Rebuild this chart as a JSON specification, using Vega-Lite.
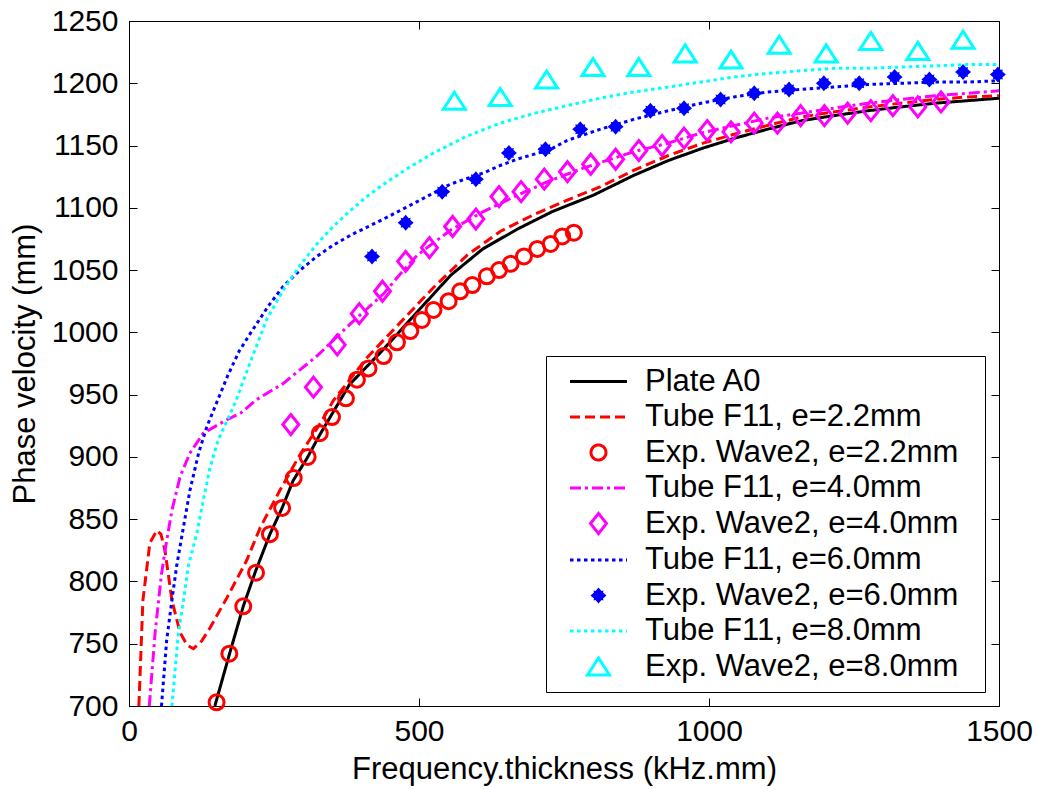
{
  "$schema": "https://vega.github.io/schema/vega-lite/v6.json",
  "width": 870,
  "height": 685,
  "autosize": {"type": "none"},
  "padding": {"left": 129, "top": 21, "right": 39, "bottom": 83},
  "background": "white",
  "datasets": {
    "lines": [
      {"series": "Plate A0", "f": 148, "v": 700},
      {"series": "Plate A0", "f": 174, "v": 743},
      {"series": "Plate A0", "f": 197, "v": 780},
      {"series": "Plate A0", "f": 218, "v": 808},
      {"series": "Plate A0", "f": 243, "v": 838},
      {"series": "Plate A0", "f": 264, "v": 859},
      {"series": "Plate A0", "f": 283, "v": 881},
      {"series": "Plate A0", "f": 307, "v": 899},
      {"series": "Plate A0", "f": 328, "v": 917},
      {"series": "Plate A0", "f": 352, "v": 936},
      {"series": "Plate A0", "f": 380, "v": 958},
      {"series": "Plate A0", "f": 440, "v": 987},
      {"series": "Plate A0", "f": 500, "v": 1018},
      {"series": "Plate A0", "f": 555, "v": 1046},
      {"series": "Plate A0", "f": 610, "v": 1067},
      {"series": "Plate A0", "f": 670, "v": 1083},
      {"series": "Plate A0", "f": 730, "v": 1097},
      {"series": "Plate A0", "f": 800, "v": 1110},
      {"series": "Plate A0", "f": 870, "v": 1126},
      {"series": "Plate A0", "f": 930, "v": 1138},
      {"series": "Plate A0", "f": 990, "v": 1148},
      {"series": "Plate A0", "f": 1045, "v": 1156},
      {"series": "Plate A0", "f": 1100, "v": 1163},
      {"series": "Plate A0", "f": 1160, "v": 1170},
      {"series": "Plate A0", "f": 1215, "v": 1174},
      {"series": "Plate A0", "f": 1275, "v": 1178},
      {"series": "Plate A0", "f": 1330, "v": 1181},
      {"series": "Plate A0", "f": 1390, "v": 1184},
      {"series": "Plate A0", "f": 1445, "v": 1186},
      {"series": "Plate A0", "f": 1500, "v": 1188},

      {"series": "Tube F11, e=2.2mm", "f": 17, "v": 700},
      {"series": "Tube F11, e=2.2mm", "f": 24, "v": 785},
      {"series": "Tube F11, e=2.2mm", "f": 36, "v": 831},
      {"series": "Tube F11, e=2.2mm", "f": 48, "v": 841},
      {"series": "Tube F11, e=2.2mm", "f": 55, "v": 838},
      {"series": "Tube F11, e=2.2mm", "f": 62, "v": 825},
      {"series": "Tube F11, e=2.2mm", "f": 74, "v": 785},
      {"series": "Tube F11, e=2.2mm", "f": 88, "v": 759},
      {"series": "Tube F11, e=2.2mm", "f": 100, "v": 749},
      {"series": "Tube F11, e=2.2mm", "f": 111, "v": 746},
      {"series": "Tube F11, e=2.2mm", "f": 125, "v": 752},
      {"series": "Tube F11, e=2.2mm", "f": 140, "v": 763},
      {"series": "Tube F11, e=2.2mm", "f": 169, "v": 787},
      {"series": "Tube F11, e=2.2mm", "f": 203, "v": 817},
      {"series": "Tube F11, e=2.2mm", "f": 226, "v": 843},
      {"series": "Tube F11, e=2.2mm", "f": 260, "v": 873},
      {"series": "Tube F11, e=2.2mm", "f": 295, "v": 902},
      {"series": "Tube F11, e=2.2mm", "f": 330, "v": 927},
      {"series": "Tube F11, e=2.2mm", "f": 352, "v": 945},
      {"series": "Tube F11, e=2.2mm", "f": 411, "v": 980},
      {"series": "Tube F11, e=2.2mm", "f": 468, "v": 1008},
      {"series": "Tube F11, e=2.2mm", "f": 525, "v": 1036},
      {"series": "Tube F11, e=2.2mm", "f": 583, "v": 1062},
      {"series": "Tube F11, e=2.2mm", "f": 640, "v": 1081},
      {"series": "Tube F11, e=2.2mm", "f": 700, "v": 1095},
      {"series": "Tube F11, e=2.2mm", "f": 760, "v": 1107},
      {"series": "Tube F11, e=2.2mm", "f": 813, "v": 1117},
      {"series": "Tube F11, e=2.2mm", "f": 870, "v": 1130},
      {"series": "Tube F11, e=2.2mm", "f": 930, "v": 1142},
      {"series": "Tube F11, e=2.2mm", "f": 990, "v": 1152},
      {"series": "Tube F11, e=2.2mm", "f": 1050, "v": 1160},
      {"series": "Tube F11, e=2.2mm", "f": 1100, "v": 1166},
      {"series": "Tube F11, e=2.2mm", "f": 1160, "v": 1173},
      {"series": "Tube F11, e=2.2mm", "f": 1215, "v": 1177},
      {"series": "Tube F11, e=2.2mm", "f": 1275, "v": 1181},
      {"series": "Tube F11, e=2.2mm", "f": 1330, "v": 1184},
      {"series": "Tube F11, e=2.2mm", "f": 1390, "v": 1187},
      {"series": "Tube F11, e=2.2mm", "f": 1445, "v": 1189},
      {"series": "Tube F11, e=2.2mm", "f": 1500, "v": 1190},

      {"series": "Tube F11, e=4.0mm", "f": 35, "v": 700},
      {"series": "Tube F11, e=4.0mm", "f": 45, "v": 759},
      {"series": "Tube F11, e=4.0mm", "f": 56, "v": 806},
      {"series": "Tube F11, e=4.0mm", "f": 65, "v": 833},
      {"series": "Tube F11, e=4.0mm", "f": 74, "v": 857},
      {"series": "Tube F11, e=4.0mm", "f": 88, "v": 884},
      {"series": "Tube F11, e=4.0mm", "f": 105, "v": 903},
      {"series": "Tube F11, e=4.0mm", "f": 128, "v": 919},
      {"series": "Tube F11, e=4.0mm", "f": 169, "v": 930},
      {"series": "Tube F11, e=4.0mm", "f": 192, "v": 935},
      {"series": "Tube F11, e=4.0mm", "f": 220, "v": 946},
      {"series": "Tube F11, e=4.0mm", "f": 266, "v": 959},
      {"series": "Tube F11, e=4.0mm", "f": 324, "v": 981},
      {"series": "Tube F11, e=4.0mm", "f": 382, "v": 1007},
      {"series": "Tube F11, e=4.0mm", "f": 439, "v": 1031},
      {"series": "Tube F11, e=4.0mm", "f": 468, "v": 1047},
      {"series": "Tube F11, e=4.0mm", "f": 497, "v": 1062},
      {"series": "Tube F11, e=4.0mm", "f": 554, "v": 1082},
      {"series": "Tube F11, e=4.0mm", "f": 611, "v": 1097},
      {"series": "Tube F11, e=4.0mm", "f": 669, "v": 1110},
      {"series": "Tube F11, e=4.0mm", "f": 727, "v": 1122},
      {"series": "Tube F11, e=4.0mm", "f": 784, "v": 1132},
      {"series": "Tube F11, e=4.0mm", "f": 870, "v": 1145},
      {"series": "Tube F11, e=4.0mm", "f": 930, "v": 1152},
      {"series": "Tube F11, e=4.0mm", "f": 986, "v": 1160},
      {"series": "Tube F11, e=4.0mm", "f": 1043, "v": 1166},
      {"series": "Tube F11, e=4.0mm", "f": 1101, "v": 1172},
      {"series": "Tube F11, e=4.0mm", "f": 1158, "v": 1176},
      {"series": "Tube F11, e=4.0mm", "f": 1215, "v": 1180},
      {"series": "Tube F11, e=4.0mm", "f": 1274, "v": 1184},
      {"series": "Tube F11, e=4.0mm", "f": 1331, "v": 1187},
      {"series": "Tube F11, e=4.0mm", "f": 1390, "v": 1190},
      {"series": "Tube F11, e=4.0mm", "f": 1446, "v": 1192},
      {"series": "Tube F11, e=4.0mm", "f": 1500, "v": 1194},

      {"series": "Tube F11, e=6.0mm", "f": 56, "v": 700},
      {"series": "Tube F11, e=6.0mm", "f": 65, "v": 753},
      {"series": "Tube F11, e=6.0mm", "f": 74, "v": 785},
      {"series": "Tube F11, e=6.0mm", "f": 82, "v": 812},
      {"series": "Tube F11, e=6.0mm", "f": 94, "v": 844},
      {"series": "Tube F11, e=6.0mm", "f": 105, "v": 873},
      {"series": "Tube F11, e=6.0mm", "f": 120, "v": 903},
      {"series": "Tube F11, e=6.0mm", "f": 134, "v": 924},
      {"series": "Tube F11, e=6.0mm", "f": 148, "v": 940},
      {"series": "Tube F11, e=6.0mm", "f": 170, "v": 965},
      {"series": "Tube F11, e=6.0mm", "f": 190, "v": 985},
      {"series": "Tube F11, e=6.0mm", "f": 209, "v": 999},
      {"series": "Tube F11, e=6.0mm", "f": 240, "v": 1021},
      {"series": "Tube F11, e=6.0mm", "f": 266, "v": 1037},
      {"series": "Tube F11, e=6.0mm", "f": 295, "v": 1050},
      {"series": "Tube F11, e=6.0mm", "f": 324, "v": 1061},
      {"series": "Tube F11, e=6.0mm", "f": 352, "v": 1070},
      {"series": "Tube F11, e=6.0mm", "f": 382, "v": 1078},
      {"series": "Tube F11, e=6.0mm", "f": 439, "v": 1091},
      {"series": "Tube F11, e=6.0mm", "f": 497, "v": 1105},
      {"series": "Tube F11, e=6.0mm", "f": 554, "v": 1119},
      {"series": "Tube F11, e=6.0mm", "f": 611, "v": 1128},
      {"series": "Tube F11, e=6.0mm", "f": 640, "v": 1134},
      {"series": "Tube F11, e=6.0mm", "f": 669, "v": 1139},
      {"series": "Tube F11, e=6.0mm", "f": 727, "v": 1147},
      {"series": "Tube F11, e=6.0mm", "f": 755, "v": 1154},
      {"series": "Tube F11, e=6.0mm", "f": 812, "v": 1163},
      {"series": "Tube F11, e=6.0mm", "f": 870, "v": 1171},
      {"series": "Tube F11, e=6.0mm", "f": 930, "v": 1178},
      {"series": "Tube F11, e=6.0mm", "f": 986, "v": 1184},
      {"series": "Tube F11, e=6.0mm", "f": 1043, "v": 1189},
      {"series": "Tube F11, e=6.0mm", "f": 1101, "v": 1193},
      {"series": "Tube F11, e=6.0mm", "f": 1158, "v": 1195},
      {"series": "Tube F11, e=6.0mm", "f": 1216, "v": 1197},
      {"series": "Tube F11, e=6.0mm", "f": 1274, "v": 1199},
      {"series": "Tube F11, e=6.0mm", "f": 1331, "v": 1200},
      {"series": "Tube F11, e=6.0mm", "f": 1390, "v": 1201},
      {"series": "Tube F11, e=6.0mm", "f": 1446, "v": 1201},
      {"series": "Tube F11, e=6.0mm", "f": 1500, "v": 1202},

      {"series": "Tube F11, e=8.0mm", "f": 74, "v": 700},
      {"series": "Tube F11, e=8.0mm", "f": 85, "v": 758},
      {"series": "Tube F11, e=8.0mm", "f": 94, "v": 785},
      {"series": "Tube F11, e=8.0mm", "f": 102, "v": 812},
      {"series": "Tube F11, e=8.0mm", "f": 117, "v": 839},
      {"series": "Tube F11, e=8.0mm", "f": 128, "v": 865},
      {"series": "Tube F11, e=8.0mm", "f": 140, "v": 892},
      {"series": "Tube F11, e=8.0mm", "f": 154, "v": 914},
      {"series": "Tube F11, e=8.0mm", "f": 172, "v": 932},
      {"series": "Tube F11, e=8.0mm", "f": 186, "v": 947},
      {"series": "Tube F11, e=8.0mm", "f": 209, "v": 976},
      {"series": "Tube F11, e=8.0mm", "f": 238, "v": 1011},
      {"series": "Tube F11, e=8.0mm", "f": 266, "v": 1034},
      {"series": "Tube F11, e=8.0mm", "f": 295, "v": 1054},
      {"series": "Tube F11, e=8.0mm", "f": 324, "v": 1071},
      {"series": "Tube F11, e=8.0mm", "f": 352, "v": 1085},
      {"series": "Tube F11, e=8.0mm", "f": 382, "v": 1098},
      {"series": "Tube F11, e=8.0mm", "f": 410, "v": 1109},
      {"series": "Tube F11, e=8.0mm", "f": 439, "v": 1119},
      {"series": "Tube F11, e=8.0mm", "f": 485, "v": 1133},
      {"series": "Tube F11, e=8.0mm", "f": 525, "v": 1144},
      {"series": "Tube F11, e=8.0mm", "f": 580, "v": 1157},
      {"series": "Tube F11, e=8.0mm", "f": 640, "v": 1168},
      {"series": "Tube F11, e=8.0mm", "f": 700, "v": 1176},
      {"series": "Tube F11, e=8.0mm", "f": 755, "v": 1182},
      {"series": "Tube F11, e=8.0mm", "f": 812, "v": 1188},
      {"series": "Tube F11, e=8.0mm", "f": 870, "v": 1193},
      {"series": "Tube F11, e=8.0mm", "f": 930, "v": 1197},
      {"series": "Tube F11, e=8.0mm", "f": 986, "v": 1201},
      {"series": "Tube F11, e=8.0mm", "f": 1043, "v": 1205},
      {"series": "Tube F11, e=8.0mm", "f": 1101, "v": 1208},
      {"series": "Tube F11, e=8.0mm", "f": 1158, "v": 1210},
      {"series": "Tube F11, e=8.0mm", "f": 1216, "v": 1212},
      {"series": "Tube F11, e=8.0mm", "f": 1274, "v": 1212},
      {"series": "Tube F11, e=8.0mm", "f": 1331, "v": 1213},
      {"series": "Tube F11, e=8.0mm", "f": 1390, "v": 1214},
      {"series": "Tube F11, e=8.0mm", "f": 1446, "v": 1215},
      {"series": "Tube F11, e=8.0mm", "f": 1500, "v": 1215}
    ],
    "points": [
      {"series": "Exp. Wave2, e=2.2mm", "f": 151, "v": 703},
      {"series": "Exp. Wave2, e=2.2mm", "f": 173, "v": 742},
      {"series": "Exp. Wave2, e=2.2mm", "f": 197, "v": 780},
      {"series": "Exp. Wave2, e=2.2mm", "f": 219, "v": 807},
      {"series": "Exp. Wave2, e=2.2mm", "f": 243, "v": 838},
      {"series": "Exp. Wave2, e=2.2mm", "f": 264, "v": 859},
      {"series": "Exp. Wave2, e=2.2mm", "f": 284, "v": 883},
      {"series": "Exp. Wave2, e=2.2mm", "f": 308, "v": 900},
      {"series": "Exp. Wave2, e=2.2mm", "f": 329, "v": 919},
      {"series": "Exp. Wave2, e=2.2mm", "f": 350, "v": 932},
      {"series": "Exp. Wave2, e=2.2mm", "f": 374, "v": 947},
      {"series": "Exp. Wave2, e=2.2mm", "f": 393, "v": 962},
      {"series": "Exp. Wave2, e=2.2mm", "f": 413, "v": 971},
      {"series": "Exp. Wave2, e=2.2mm", "f": 439, "v": 981},
      {"series": "Exp. Wave2, e=2.2mm", "f": 462, "v": 992},
      {"series": "Exp. Wave2, e=2.2mm", "f": 485, "v": 1001},
      {"series": "Exp. Wave2, e=2.2mm", "f": 505, "v": 1010},
      {"series": "Exp. Wave2, e=2.2mm", "f": 525, "v": 1018},
      {"series": "Exp. Wave2, e=2.2mm", "f": 551, "v": 1025},
      {"series": "Exp. Wave2, e=2.2mm", "f": 571, "v": 1033},
      {"series": "Exp. Wave2, e=2.2mm", "f": 592, "v": 1038},
      {"series": "Exp. Wave2, e=2.2mm", "f": 617, "v": 1045},
      {"series": "Exp. Wave2, e=2.2mm", "f": 638, "v": 1050},
      {"series": "Exp. Wave2, e=2.2mm", "f": 658, "v": 1055},
      {"series": "Exp. Wave2, e=2.2mm", "f": 681, "v": 1061},
      {"series": "Exp. Wave2, e=2.2mm", "f": 704, "v": 1067},
      {"series": "Exp. Wave2, e=2.2mm", "f": 727, "v": 1071},
      {"series": "Exp. Wave2, e=2.2mm", "f": 747, "v": 1077},
      {"series": "Exp. Wave2, e=2.2mm", "f": 767, "v": 1080},

      {"series": "Exp. Wave2, e=4.0mm", "f": 279, "v": 926},
      {"series": "Exp. Wave2, e=4.0mm", "f": 318, "v": 956},
      {"series": "Exp. Wave2, e=4.0mm", "f": 359, "v": 990},
      {"series": "Exp. Wave2, e=4.0mm", "f": 397, "v": 1015},
      {"series": "Exp. Wave2, e=4.0mm", "f": 437, "v": 1033},
      {"series": "Exp. Wave2, e=4.0mm", "f": 477, "v": 1057},
      {"series": "Exp. Wave2, e=4.0mm", "f": 518, "v": 1068},
      {"series": "Exp. Wave2, e=4.0mm", "f": 558, "v": 1085},
      {"series": "Exp. Wave2, e=4.0mm", "f": 598, "v": 1091},
      {"series": "Exp. Wave2, e=4.0mm", "f": 638, "v": 1109},
      {"series": "Exp. Wave2, e=4.0mm", "f": 676, "v": 1113},
      {"series": "Exp. Wave2, e=4.0mm", "f": 716, "v": 1123},
      {"series": "Exp. Wave2, e=4.0mm", "f": 756, "v": 1129},
      {"series": "Exp. Wave2, e=4.0mm", "f": 796, "v": 1135},
      {"series": "Exp. Wave2, e=4.0mm", "f": 839, "v": 1139},
      {"series": "Exp. Wave2, e=4.0mm", "f": 879, "v": 1146},
      {"series": "Exp. Wave2, e=4.0mm", "f": 919, "v": 1150},
      {"series": "Exp. Wave2, e=4.0mm", "f": 957, "v": 1156},
      {"series": "Exp. Wave2, e=4.0mm", "f": 997, "v": 1162},
      {"series": "Exp. Wave2, e=4.0mm", "f": 1038, "v": 1161},
      {"series": "Exp. Wave2, e=4.0mm", "f": 1078, "v": 1168},
      {"series": "Exp. Wave2, e=4.0mm", "f": 1118, "v": 1168},
      {"series": "Exp. Wave2, e=4.0mm", "f": 1158, "v": 1174},
      {"series": "Exp. Wave2, e=4.0mm", "f": 1199, "v": 1174},
      {"series": "Exp. Wave2, e=4.0mm", "f": 1239, "v": 1176},
      {"series": "Exp. Wave2, e=4.0mm", "f": 1279, "v": 1178},
      {"series": "Exp. Wave2, e=4.0mm", "f": 1317, "v": 1182},
      {"series": "Exp. Wave2, e=4.0mm", "f": 1360, "v": 1181},
      {"series": "Exp. Wave2, e=4.0mm", "f": 1400, "v": 1185},

      {"series": "Exp. Wave2, e=6.0mm", "f": 419, "v": 1061},
      {"series": "Exp. Wave2, e=6.0mm", "f": 477, "v": 1088},
      {"series": "Exp. Wave2, e=6.0mm", "f": 540, "v": 1113},
      {"series": "Exp. Wave2, e=6.0mm", "f": 598, "v": 1123},
      {"series": "Exp. Wave2, e=6.0mm", "f": 655, "v": 1144},
      {"series": "Exp. Wave2, e=6.0mm", "f": 718, "v": 1147},
      {"series": "Exp. Wave2, e=6.0mm", "f": 778, "v": 1163},
      {"series": "Exp. Wave2, e=6.0mm", "f": 839, "v": 1165},
      {"series": "Exp. Wave2, e=6.0mm", "f": 899, "v": 1178},
      {"series": "Exp. Wave2, e=6.0mm", "f": 957, "v": 1180},
      {"series": "Exp. Wave2, e=6.0mm", "f": 1020, "v": 1187},
      {"series": "Exp. Wave2, e=6.0mm", "f": 1078, "v": 1192},
      {"series": "Exp. Wave2, e=6.0mm", "f": 1138, "v": 1195},
      {"series": "Exp. Wave2, e=6.0mm", "f": 1198, "v": 1200},
      {"series": "Exp. Wave2, e=6.0mm", "f": 1259, "v": 1200},
      {"series": "Exp. Wave2, e=6.0mm", "f": 1320, "v": 1205},
      {"series": "Exp. Wave2, e=6.0mm", "f": 1380, "v": 1203},
      {"series": "Exp. Wave2, e=6.0mm", "f": 1438, "v": 1209},
      {"series": "Exp. Wave2, e=6.0mm", "f": 1498, "v": 1207},

      {"series": "Exp. Wave2, e=8.0mm", "f": 561, "v": 1186},
      {"series": "Exp. Wave2, e=8.0mm", "f": 640, "v": 1189},
      {"series": "Exp. Wave2, e=8.0mm", "f": 720, "v": 1203},
      {"series": "Exp. Wave2, e=8.0mm", "f": 800, "v": 1213},
      {"series": "Exp. Wave2, e=8.0mm", "f": 879, "v": 1213},
      {"series": "Exp. Wave2, e=8.0mm", "f": 959, "v": 1224},
      {"series": "Exp. Wave2, e=8.0mm", "f": 1038, "v": 1219},
      {"series": "Exp. Wave2, e=8.0mm", "f": 1121, "v": 1231},
      {"series": "Exp. Wave2, e=8.0mm", "f": 1202, "v": 1224},
      {"series": "Exp. Wave2, e=8.0mm", "f": 1279, "v": 1234},
      {"series": "Exp. Wave2, e=8.0mm", "f": 1360, "v": 1226},
      {"series": "Exp. Wave2, e=8.0mm", "f": 1438, "v": 1235}
    ]
  },
  "config": {
    "view": {"stroke": null},
    "axis": {
      "domainColor": "black",
      "domainWidth": 1,
      "tickColor": "black",
      "tickWidth": 1,
      "labelColor": "black",
      "titleColor": "black",
      "labelFont": "Liberation Sans",
      "titleFont": "Liberation Sans",
      "labelFontSize": 30,
      "titleFontSize": 31,
      "titleFontWeight": "normal",
      "grid": false,
      "labelFlush": false,
      "labelOverlap": false,
      "format": "d"
    }
  },
  "resolve": {"axis": {"x": "independent", "y": "independent"}},
  "layer": [
    {
      "data": {"name": "lines"},
      "mark": {"type": "line", "strokeWidth": 3, "strokeCap": "butt", "clip": true},
      "encoding": {
        "x": {
          "field": "f", "type": "quantitative",
          "scale": {"domain": [0, 1500], "nice": false, "zero": false},
          "axis": {"values": [0, 500, 1000, 1500], "format": "d", "title": "Frequency.thickness (kHz.mm)", "tickSize": -8, "labelPadding": 18, "titlePadding": 8}
        },
        "y": {
          "field": "v", "type": "quantitative",
          "scale": {"domain": [700, 1250], "nice": false, "zero": false},
          "axis": {"values": [700, 750, 800, 850, 900, 950, 1000, 1050, 1100, 1150, 1200, 1250], "format": "d", "title": "Phase velocity (mm)", "tickSize": -8, "labelPadding": 19, "titlePadding": 10}
        },
        "color": {
          "field": "series", "type": "nominal",
          "scale": {
            "domain": ["Plate A0", "Tube F11, e=2.2mm", "Exp. Wave2, e=2.2mm", "Tube F11, e=4.0mm", "Exp. Wave2, e=4.0mm", "Tube F11, e=6.0mm", "Exp. Wave2, e=6.0mm", "Tube F11, e=8.0mm", "Exp. Wave2, e=8.0mm"],
            "range": ["#000000", "#ff0000", "#ff0000", "#ff00ff", "#ff00ff", "#0000ff", "#0000ff", "#00ffff", "#00ffff"]
          },
          "legend": {
            "title": "\u00a0",
            "titleOrient": "right",
            "titleFontSize": 2,
            "titlePadding": 17,
            "titleColor": "white",
            "orient": "bottom-right",
            "offset": 14,
            "padding": 10,
            "symbolOffset": 27,
            "labelOffset": 31,
            "labelFont": "Liberation Sans",
            "labelFontSize": 31,
            "labelColor": "black",
            "labelLimit": 700,
            "rowPadding": 3.5,
            "strokeColor": "black",
            "fillColor": "white",
            "symbolSize": 400,
            "symbolStrokeWidth": 3,
            "encode": {
              "symbols": {
                "update": {
                  "shape": {"signal": "datum.value === 'Exp. Wave2, e=2.2mm' ? 'M0.75,0A0.75,0.75,0,1,1,-0.75,0A0.75,0.75,0,1,1,0.75,0Z' : datum.value === 'Exp. Wave2, e=4.0mm' ? 'M0,-1L0.8,0L0,1L-0.8,0Z' : datum.value === 'Exp. Wave2, e=6.0mm' ? 'M0,-0.8L0.3,-0.45L0.5,-0.5L0.45,-0.3L0.8,0L0.45,0.3L0.5,0.5L0.3,0.45L0,0.8L-0.3,0.45L-0.5,0.5L-0.45,0.3L-0.8,0L-0.45,-0.3L-0.5,-0.5L-0.3,-0.45Z' : datum.value === 'Exp. Wave2, e=8.0mm' ? 'M0,-0.85L1.1,0.85L-1.1,0.85Z' : 'M-2.85,0H2.85'"},
                  "strokeDash": {"signal": "datum.value === 'Tube F11, e=2.2mm' ? [10,5] : datum.value === 'Tube F11, e=4.0mm' ? [11,4,3,4] : (datum.value === 'Tube F11, e=6.0mm' || datum.value === 'Tube F11, e=8.0mm') ? [3.5,3.5] : [1,0]"},
                  "fill": {"signal": "scale('color', datum.value)"},
                  "fillOpacity": {"signal": "datum.value === 'Exp. Wave2, e=6.0mm' ? 1 : 0"},
                  "stroke": {"signal": "scale('color', datum.value)"},
                  "strokeOpacity": {"signal": "datum.value === 'Exp. Wave2, e=6.0mm' ? 0 : 1"},
                  "strokeWidth": {"value": 3},
                  "size": {"value": 400},
                  "opacity": {"value": 1}
                }
              }
            }
          }
        },
        "strokeDash": {
          "field": "series", "type": "nominal",
          "scale": {
            "domain": ["Plate A0", "Tube F11, e=2.2mm", "Tube F11, e=4.0mm", "Tube F11, e=6.0mm", "Tube F11, e=8.0mm"],
            "range": [[1, 0], [10, 5], [11, 4, 3, 4], [3.5, 3.5], [3.5, 3.5]]
          },
          "legend": null
        }
      }
    },
    {
      "data": {"name": "points"},
      "transform": [{"filter": "datum.series !== 'Exp. Wave2, e=6.0mm'"}],
      "mark": {"type": "point", "filled": false, "strokeWidth": 3, "size": 400, "opacity": 1},
      "encoding": {
        "x": {
          "field": "f", "type": "quantitative",
          "axis": {"orient": "top", "values": [0, 500, 1000, 1500], "labels": false, "title": null, "tickSize": -8}
        },
        "y": {
          "field": "v", "type": "quantitative",
          "axis": {"orient": "right", "values": [700, 750, 800, 850, 900, 950, 1000, 1050, 1100, 1150, 1200, 1250], "labels": false, "title": null, "tickSize": -8}
        },
        "color": {"field": "series", "type": "nominal"},
        "shape": {
          "field": "series", "type": "nominal",
          "scale": {
            "domain": ["Exp. Wave2, e=2.2mm", "Exp. Wave2, e=4.0mm", "Exp. Wave2, e=6.0mm", "Exp. Wave2, e=8.0mm"],
            "range": ["M0.75,0A0.75,0.75,0,1,1,-0.75,0A0.75,0.75,0,1,1,0.75,0Z", "M0,-1L0.8,0L0,1L-0.8,0Z", "M0,-0.8L0.3,-0.45L0.5,-0.5L0.45,-0.3L0.8,0L0.45,0.3L0.5,0.5L0.3,0.45L0,0.8L-0.3,0.45L-0.5,0.5L-0.45,0.3L-0.8,0L-0.45,-0.3L-0.5,-0.5L-0.3,-0.45Z", "M0,-0.85L1.1,0.85L-1.1,0.85Z"]
          },
          "legend": null
        }
      }
    },
    {
      "data": {"name": "points"},
      "transform": [{"filter": "datum.series === 'Exp. Wave2, e=6.0mm'"}],
      "mark": {"type": "point", "filled": true, "size": 400, "opacity": 1},
      "encoding": {
        "x": {"field": "f", "type": "quantitative", "axis": null},
        "y": {"field": "v", "type": "quantitative", "axis": null},
        "color": {"field": "series", "type": "nominal"},
        "shape": {"field": "series", "type": "nominal", "legend": null}
      }
    }
  ]
}
